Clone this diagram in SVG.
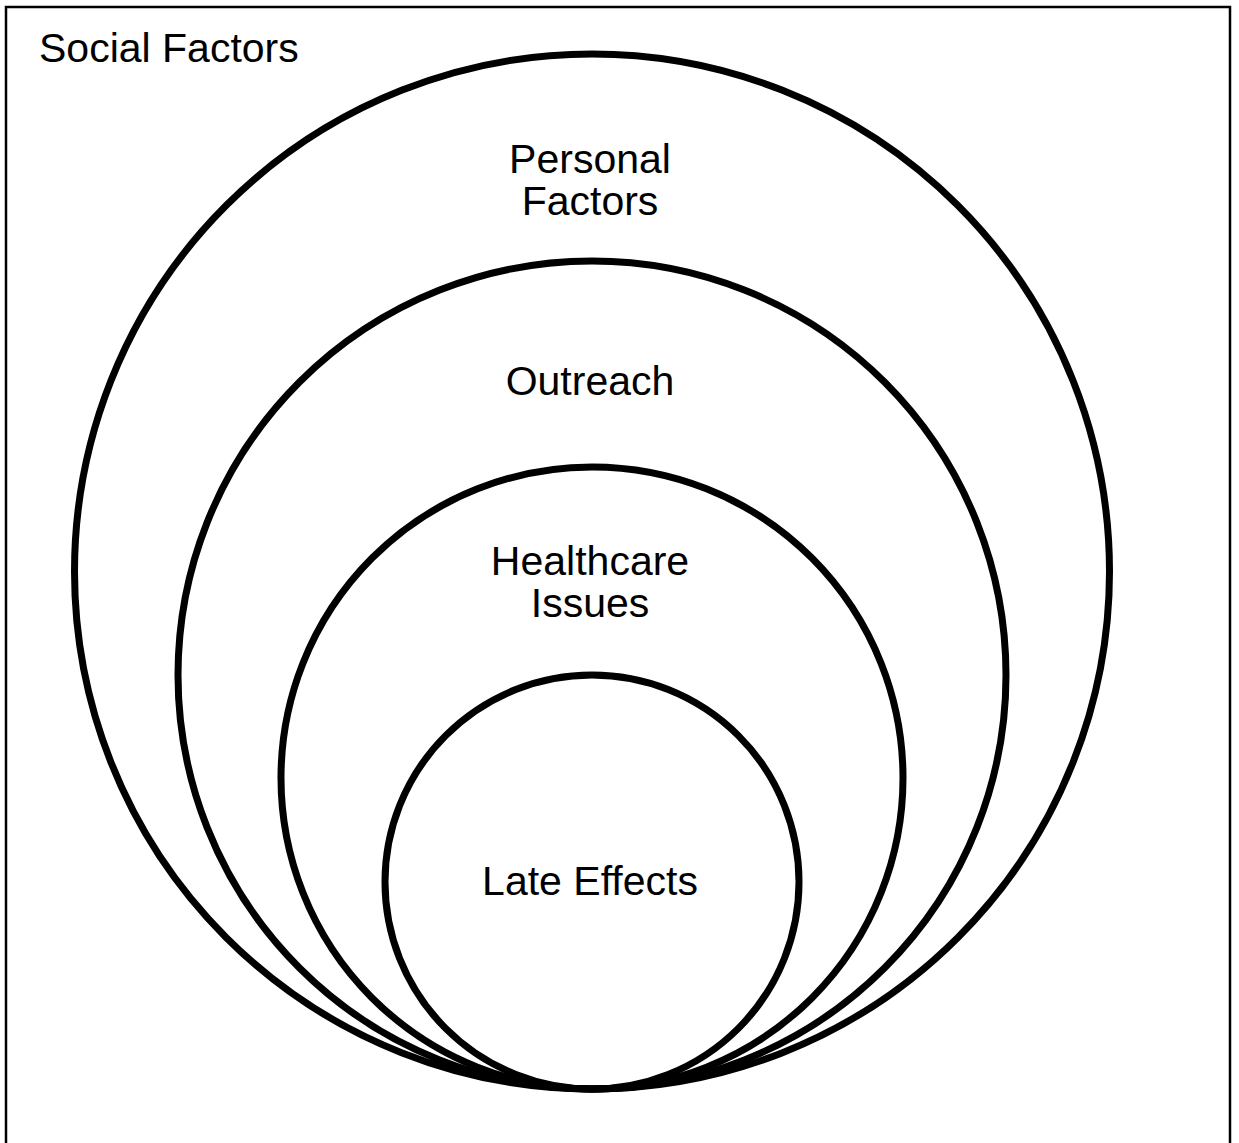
<svg xmlns="http://www.w3.org/2000/svg" width="1239" height="1143" viewBox="0 0 1239 1143">
  <style>
    .ring { fill: none; stroke: #000; stroke-width: 7; }
    .frame { fill: none; stroke: #000; stroke-width: 2.5; }
    .label { font-family: "Liberation Sans", Arial, sans-serif; font-size: 41px; fill: #000; text-anchor: middle; }
    .corner { font-family: "Liberation Sans", Arial, sans-serif; font-size: 41px; fill: #000; }
  </style>
  <rect width="1239" height="1143" fill="#fff"/>
  <!-- outer frame, open at the bottom edge -->
  <path class="frame" d="M6,1143 V7 H1230 V1143"/>
  <text class="corner" x="39" y="62">Social Factors</text>

  <g id="personal-factors">
    <circle class="ring" cx="592" cy="571.5" r="517.5"/>
    <text class="label" x="590" y="173">Personal</text>
    <text class="label" x="590" y="215">Factors</text>
  </g>
  <g id="outreach">
    <circle class="ring" cx="592" cy="675" r="414"/>
    <text class="label" x="590" y="395">Outreach</text>
  </g>
  <g id="healthcare-issues">
    <circle class="ring" cx="592" cy="778" r="311"/>
    <text class="label" x="590" y="575">Healthcare</text>
    <text class="label" x="590" y="617">Issues</text>
  </g>
  <g id="late-effects">
    <circle class="ring" cx="592" cy="882" r="207"/>
    <text class="label" x="590" y="895">Late Effects</text>
  </g>
  <g id="connectors"></g>
</svg>
